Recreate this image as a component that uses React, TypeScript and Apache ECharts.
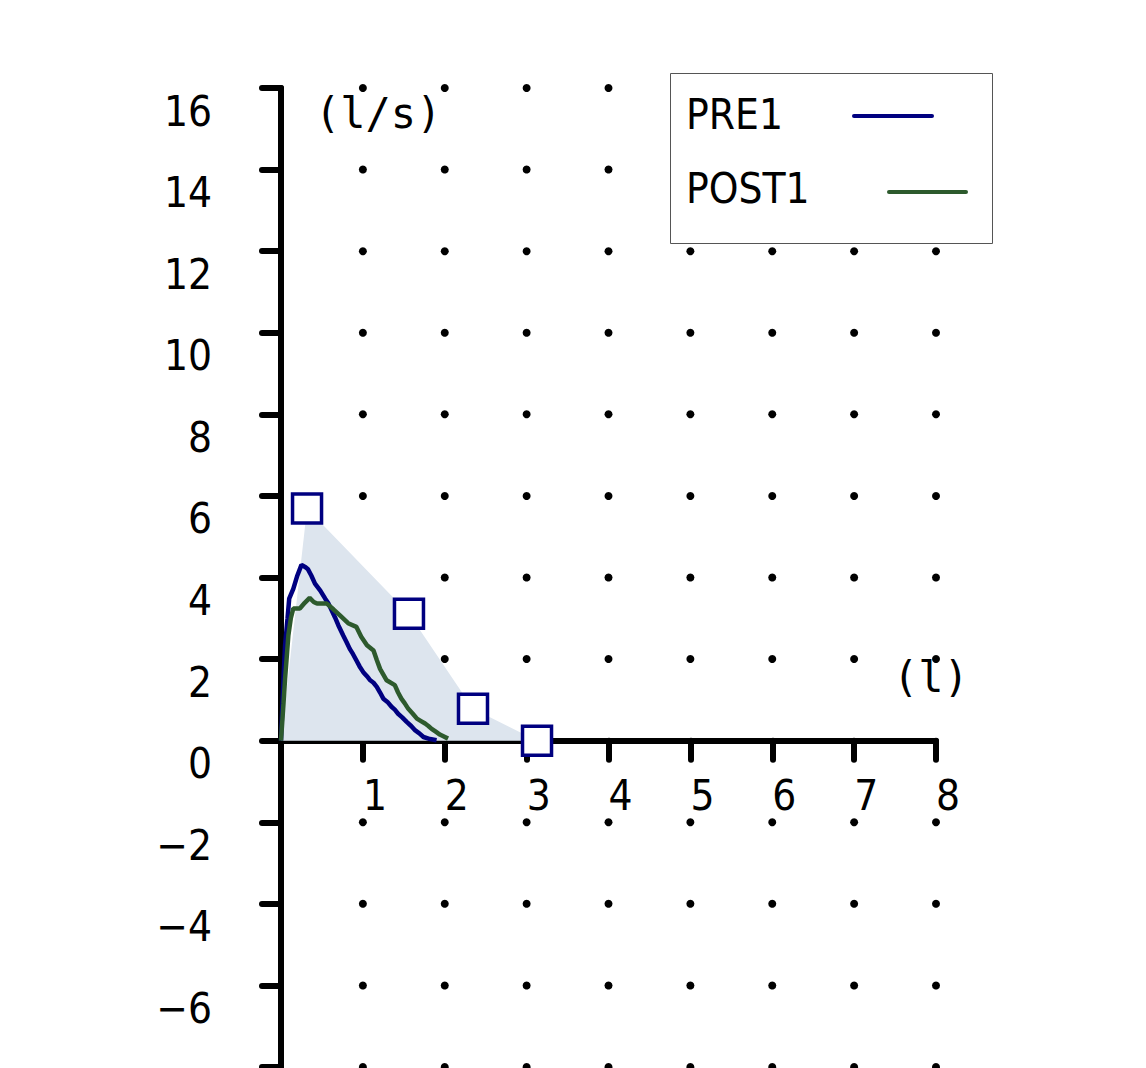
import React, { useEffect, useRef } from "react";
import * as echarts from "echarts";

// Measured curves (volume in l, flow in l/s)
const preX = [0, 0.03, 0.05, 0.08, 0.10, 0.15, 0.20, 0.25, 0.30, 0.33, 0.37, 0.415, 0.48, 0.54, 0.58, 0.62, 0.66, 0.70, 0.76, 0.80, 0.84, 0.88, 0.92, 0.96, 1.005, 1.05, 1.09, 1.13, 1.17, 1.21, 1.25, 1.30, 1.35, 1.39, 1.43, 1.48, 1.535, 1.59, 1.64, 1.69, 1.74, 1.82, 1.90];
const preY = [0, 1.5, 2.34, 3.0, 3.48, 3.72, 4.05, 4.31, 4.25, 4.20, 4.05, 3.85, 3.68, 3.48, 3.36, 3.19, 3.02, 2.83, 2.58, 2.42, 2.25, 2.12, 1.97, 1.82, 1.68, 1.58, 1.48, 1.42, 1.32, 1.18, 1.03, 0.95, 0.83, 0.76, 0.66, 0.57, 0.46, 0.36, 0.25, 0.18, 0.09, 0.04, 0.01];
const postX = [0, 0.03, 0.05, 0.09, 0.12, 0.15, 0.23, 0.29, 0.35, 0.40, 0.44, 0.56, 0.64, 0.72, 0.82, 0.92, 0.98, 1.05, 1.13, 1.17, 1.21, 1.25, 1.29, 1.39, 1.43, 1.47, 1.51, 1.555, 1.61, 1.66, 1.71, 1.76, 1.80, 1.84, 1.89, 1.94, 1.99, 2.04];
const postY = [0, 0.9, 1.52, 2.58, 3.0, 3.24, 3.24, 3.38, 3.50, 3.40, 3.36, 3.36, 3.22, 3.07, 2.88, 2.79, 2.55, 2.34, 2.21, 1.98, 1.76, 1.62, 1.48, 1.36, 1.18, 1.03, 0.92, 0.78, 0.66, 0.54, 0.48, 0.42, 0.36, 0.29, 0.22, 0.15, 0.10, 0.05];

// Predicted points (squares) and shaded region
const predX = [0, 0.318, 1.563, 2.345, 3.127];
const predY = [0, 5.69, 3.11, 0.78, 0];

// Grid-dot positions and tick settings
const dotX = [1, 2, 3, 4, 5, 6, 7, 8];
const dotY = [-8, -6, -4, -2, 2, 4, 6, 8, 10, 12, 14, 16];
const xRange = [0, 8];
const yRange = [-8, 16];

const seriesNames = ["PRE1", "POST1"];
const NAVY = "#000080";
const GREEN = "#2d5a2d";
const FONT = "'DejaVu Sans Condensed', 'DejaVu Sans', sans-serif";
const MONO = "'DejaVu Sans Mono', monospace";

const GRID_TOP = 88;
const GRID_BOTTOM = 1;
const CHART_H = 1068;

export default function App() {
  const ref = useRef<HTMLDivElement>(null);
  useEffect(() => {
    if (!ref.current) return;
    const chart = echarts.init(ref.current, null, { renderer: "svg" });
    const dots: number[][] = [];
    dotX.forEach((x) => dotY.forEach((y) => dots.push([x, y])));
    const toPts = (xs: number[], ys: number[]) => xs.map((x, i) => [x, ys[i]]);
    // distance from grid bottom edge up to the y = 0 line
    const gridH = CHART_H - GRID_TOP - GRID_BOTTOM;
    const zeroFromBottom = (gridH * (0 - yRange[0])) / (yRange[1] - yRange[0]);
    const option = {
      animation: false,
      backgroundColor: "#ffffff",
      grid: {
        left: 281,
        right: 210,
        top: GRID_TOP,
        bottom: GRID_BOTTOM,
        containLabel: false,
        outerBoundsMode: "none",
      },
      xAxis: {
        type: "value",
        min: xRange[0],
        max: xRange[1],
        interval: 1,
        position: "bottom",
        offset: -zeroFromBottom,
        axisLine: { show: true, onZero: false, lineStyle: { color: "#000", width: 6, cap: "round" } },
        axisTick: { show: true, inside: false, length: 19, lineStyle: { color: "#000", width: 6, cap: "round" } },
        axisLabel: {
          show: true,
          margin: 32,
          fontSize: 42,
          lineHeight: 46,
          fontFamily: FONT,
          color: "#000",
          align: "left",
          verticalAlign: "top",
          formatter: (v: number) => (v === 0 ? "" : String(v)),
        },
        splitLine: { show: false },
      },
      yAxis: {
        type: "value",
        min: yRange[0],
        max: yRange[1],
        interval: 2,
        axisLine: { show: true, onZero: false, lineStyle: { color: "#000", width: 6, cap: "round" } },
        axisTick: { show: true, inside: false, length: 19, lineStyle: { color: "#000", width: 6, cap: "round" } },
        axisLabel: {
          show: true,
          margin: 69,
          fontSize: 42,
          lineHeight: 46,
          fontFamily: FONT,
          color: "#000",
          align: "right",
          verticalAlign: "top",
          formatter: (v: number) =>
            v === yRange[0] ? "" : v < 0 ? "\u2212" + Math.abs(v) : String(v),
        },
        splitLine: { show: false },
      },
      series: [
        {
          type: "scatter",
          name: "dots",
          data: dots,
          symbol: "circle",
          symbolSize: 8,
          itemStyle: { color: "#000", opacity: 1 },
          z: 1,
          silent: true,
        },
        {
          type: "line",
          name: "pred",
          data: toPts(predX, predY),
          showSymbol: false,
          symbol: "none",
          lineStyle: { width: 0, opacity: 0 },
          areaStyle: { color: "#dde5ee", opacity: 1 },
          z: 2,
        },
        {
          type: "line",
          name: seriesNames[0],
          data: toPts(preX, preY),
          showSymbol: false,
          symbol: "none",
          lineStyle: { width: 4.5, color: NAVY },
          z: 3,
        },
        {
          type: "line",
          name: seriesNames[1],
          data: toPts(postX, postY),
          showSymbol: false,
          symbol: "none",
          lineStyle: { width: 4.5, color: GREEN },
          z: 4,
        },
        {
          type: "scatter",
          name: "predSquares",
          data: toPts(predX.slice(1), predY.slice(1)),
          symbol: "rect",
          symbolSize: 29,
          itemStyle: { color: "#fff", borderColor: NAVY, borderWidth: 3.5, opacity: 1 },
          z: 5,
        },
      ],
      graphic: [
        {
          type: "text",
          left: 315,
          top: 92,
          z: 10,
          style: { text: "(l/s)", font: `42px ${MONO}`, fill: "#000" },
        },
        {
          type: "text",
          left: 893,
          top: 656,
          z: 10,
          style: { text: "(l)", font: `42px ${MONO}`, fill: "#000" },
        },
        {
          type: "group",
          z: 20,
          children: [
            {
              type: "rect",
              shape: { x: 670.5, y: 73.5, width: 322, height: 170 },
              style: { fill: "#fff", stroke: "#555", lineWidth: 1 },
              z: 20,
            },
            {
              type: "text",
              x: 686,
              y: 114,
              z: 21,
              style: { text: seriesNames[0], font: `42px ${FONT}`, fill: "#000", verticalAlign: "middle" },
            },
            {
              type: "line",
              shape: { x1: 854, y1: 116, x2: 932, y2: 116 },
              style: { stroke: NAVY, lineWidth: 4, lineCap: "round" },
              z: 21,
            },
            {
              type: "text",
              x: 686,
              y: 188,
              z: 21,
              style: { text: seriesNames[1], font: `42px ${FONT}`, fill: "#000", verticalAlign: "middle" },
            },
            {
              type: "line",
              shape: { x1: 889, y1: 192, x2: 966, y2: 192 },
              style: { stroke: GREEN, lineWidth: 4, lineCap: "round" },
              z: 21,
            },
          ],
        },
      ],
    };
    chart.setOption(option as any);
    return () => chart.dispose();
  }, []);
  return (
    <div
      ref={ref}
      style={{ position: "absolute", left: 0, top: 0, width: 1146, height: 1068 }}
    />
  );
}
